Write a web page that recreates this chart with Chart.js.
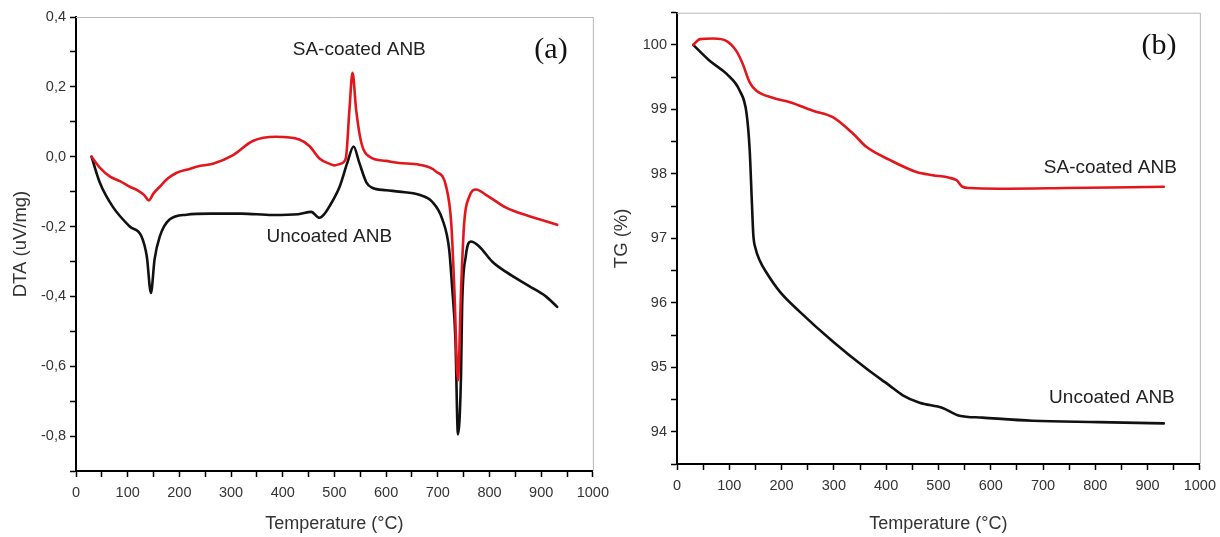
<!DOCTYPE html>
<html>
<head>
<meta charset="utf-8">
<script src="https://cdn.jsdelivr.net/npm/chart.js@4.4.1/dist/chart.umd.min.js"></script>
<style>
  html, body { margin: 0; padding: 0; background: #fff; }
  body { width: 1220px; height: 537px; position: relative; overflow: hidden; }
  canvas { position: absolute; top: 0; }
  #c1 { left: 0; }
  #c2 { left: 610px; }
</style>
</head>
<body>
<canvas id="c1" width="616" height="537"></canvas>
<canvas id="c2" width="613" height="537"></canvas>
<script>
// ---------- DATA ----------
// (a) DTA, uncoated ANB
const dtaUncoatedT = [30,46,71,104,127,137,145,152,162,181,214,260,320,380,430,455,471,480,490,510,525,537,548,562,573,600,625,664,689,709,722,728,734,739,745,747,754,764,780,805,832,876,909,931];
const dtaUncoatedV = [0,-0.074,-0.143,-0.2,-0.229,-0.286,-0.39,-0.294,-0.229,-0.18,-0.166,-0.163,-0.163,-0.167,-0.165,-0.158,-0.175,-0.165,-0.143,-0.086,-0.017,0.029,-0.017,-0.074,-0.089,-0.096,-0.1,-0.109,-0.129,-0.18,-0.266,-0.38,-0.52,-0.795,-0.62,-0.43,-0.286,-0.243,-0.257,-0.30,-0.33,-0.37,-0.40,-0.43];
// (a) DTA, SA-coated ANB
const dtaCoatedT = [30,46,66,85,104,120,132,141,150,162,178,195,220,235,265,303,342,387,432,452,471,490,500,512,522,529,535,542,552,568,600,625,664,696,716,726,732,739,745,751,761,774,793,832,876,909,931];
const dtaCoatedV = [0,-0.031,-0.057,-0.07,-0.086,-0.097,-0.11,-0.125,-0.105,-0.086,-0.062,-0.046,-0.035,-0.028,-0.02,0.004,0.045,0.057,0.049,0.03,-0.005,-0.02,-0.025,-0.02,-0.005,0.134,0.24,0.134,0.04,0.0,-0.012,-0.018,-0.023,-0.042,-0.085,-0.19,-0.38,-0.64,-0.38,-0.19,-0.114,-0.094,-0.109,-0.146,-0.17,-0.185,-0.195];
// (b) TG, uncoated ANB
const tgUncoatedT = [31,63,95,120,133,139,143,146,150,158,171,197,235,298,362,406,431,464,508,540,584,680,807,931];
const tgUncoatedV = [100.0,99.75,99.55,99.29,98.94,98.37,97.6,97.05,96.85,96.66,96.47,96.17,95.86,95.4,94.98,94.72,94.57,94.45,94.37,94.25,94.22,94.17,94.15,94.13];
// (b) TG, SA-coated ANB
const tgCoatedT = [31,44,69,95,114,126,139,152,183,216,260,298,336,362,406,458,489,521,535,546,560,616,744,931];
const tgCoatedV = [100.0,100.09,100.1,100.06,99.9,99.7,99.42,99.29,99.18,99.11,98.98,98.88,98.63,98.42,98.22,98.03,97.98,97.94,97.9,97.8,97.78,97.77,97.78,97.8];

const seriesNames = ['SA-coated ANB', 'Uncoated ANB'];
const panelTags = ['(a)', '(b)'];
const xTitle = 'Temperature (°C)';
const yTitles = ['DTA (uV/mg)', 'TG (%)'];

// ---------- STYLE ----------
const RED = '#e3161b';
const BLK = '#111111';
const SANS = "'Liberation Sans', Arial, sans-serif";
const SERIF = "'Liberation Serif', 'Times New Roman', serif";

function pts(xs, ys) { return xs.map((x, i) => ({x: x, y: ys[i]})); }

const framePlugin = {
  id: 'frame',
  afterDraw(chart, args, opts) {
    const {ctx, chartArea: a, scales} = chart;
    ctx.save();
    ctx.strokeStyle = '#b8b8b8';
    ctx.lineWidth = 1;
    ctx.beginPath();
    ctx.moveTo(a.left, a.top + 0.5);
    ctx.lineTo(a.right + 0.5, a.top + 0.5);
    ctx.lineTo(a.right + 0.5, a.bottom);
    ctx.stroke();
    for (const t of (opts.labels || [])) {
      ctx.font = t.font;
      ctx.fillStyle = t.color;
      ctx.textAlign = t.align;
      ctx.textBaseline = 'middle';
      ctx.fillText(t.text, scales.x.getPixelForValue(t.x), scales.y.getPixelForValue(t.y));
    }
    ctx.restore();
  }
};

function xScale(height) {
  return {
    type: 'linear', min: 0, max: 1000,
    afterFit: s => { s.height = height; },
    border: { display: true, color: '#000', width: 2 },
    grid: { drawOnChartArea: false, drawTicks: true, tickLength: 6, tickColor: '#000', tickWidth: 1.5 },
    ticks: {
      stepSize: 50, autoSkip: false, maxRotation: 0, padding: 7,
      color: '#333', font: { family: SANS, size: 14.5 },
      callback: v => (Math.round(v) % 100 === 0 ? String(Math.round(v)) : '')
    },
    title: { display: true, text: xTitle, color: '#333', font: { family: SANS, size: 18 }, padding: { top: 0, bottom: 2 } }
  };
}

function yScale(width, min, max, step, fmt, titleText, titlePad) {
  return {
    type: 'linear', min: min, max: max,
    afterFit: s => { s.width = width; },
    border: { display: true, color: '#000', width: 2 },
    grid: { drawOnChartArea: false, drawTicks: true, tickLength: 6, tickColor: '#000', tickWidth: 1.5 },
    ticks: {
      stepSize: step, autoSkip: false, padding: 4,
      color: '#333', font: { family: SANS, size: 14.5 },
      callback: fmt
    },
    title: { display: true, text: titleText, color: '#333', font: { family: SANS, size: 18.5 }, padding: { top: titlePad, bottom: 0 } }
  };
}

const commonOpts = {
  responsive: false,
  animation: false,
  devicePixelRatio: 1,
  plugins: { legend: { display: false }, tooltip: { enabled: false } },
  elements: { point: { radius: 0 }, line: { borderWidth: 2.6, cubicInterpolationMode: 'monotone', borderCapStyle: 'round', borderJoinStyle: 'round' } }
};

// ---------- (a) DTA ----------
new Chart(document.getElementById('c1'), {
  type: 'line',
  data: {
    datasets: [
      { label: seriesNames[0], data: pts(dtaCoatedT, dtaCoatedV), borderColor: RED, fill: false },
      { label: seriesNames[1], data: pts(dtaUncoatedT, dtaUncoatedV), borderColor: BLK, fill: false }
    ]
  },
  options: Object.assign({}, commonOpts, {
    layout: { padding: { top: 17, right: 22, left: 0, bottom: 0 } },
    scales: {
      x: xScale(66),
      y: yScale(76, -0.9, 0.4, 0.1, v => {
        const k = Math.round(v * 10);
        if (k % 2 !== 0) return '';
        return (k / 10).toFixed(1).replace('.', ',');
      }, yTitles[0], 10)
    },
    plugins: Object.assign({}, commonOpts.plugins, {
      frame: { labels: [
        { text: seriesNames[0], x: 548, y: 0.306, align: 'center', font: '19px ' + SANS, color: '#222' },
        { text: seriesNames[1], x: 490, y: -0.229, align: 'center', font: '19px ' + SANS, color: '#222' },
        { text: panelTags[0], x: 919, y: 0.306, align: 'center', font: '30px ' + SERIF, color: '#111' }
      ] }
    })
  }),
  plugins: [framePlugin]
});

// ---------- (b) TG ----------
new Chart(document.getElementById('c2'), {
  type: 'line',
  data: {
    datasets: [
      { label: seriesNames[0], data: pts(tgCoatedT, tgCoatedV), borderColor: RED, fill: false },
      { label: seriesNames[1], data: pts(tgUncoatedT, tgUncoatedV), borderColor: BLK, fill: false }
    ]
  },
  options: Object.assign({}, commonOpts, {
    layout: { padding: { top: 12, right: 22, left: 0, bottom: 0 } },
    scales: {
      x: xScale(73),
      y: yScale(67, 93.5, 100.5, 0.5, v => {
        const k = Math.round(v * 2);
        if (k % 2 !== 0) return '';
        return String(k / 2);
      }, yTitles[1], 1)
    },
    plugins: Object.assign({}, commonOpts.plugins, {
      frame: { labels: [
        { text: seriesNames[0], x: 956, y: 98.09, align: 'right', font: '19px ' + SANS, color: '#222' },
        { text: seriesNames[1], x: 952, y: 94.52, align: 'right', font: '19px ' + SANS, color: '#222' },
        { text: panelTags[1], x: 922, y: 99.98, align: 'center', font: '30px ' + SERIF, color: '#111' }
      ] }
    })
  }),
  plugins: [framePlugin]
});
</script>
</body>
</html>
